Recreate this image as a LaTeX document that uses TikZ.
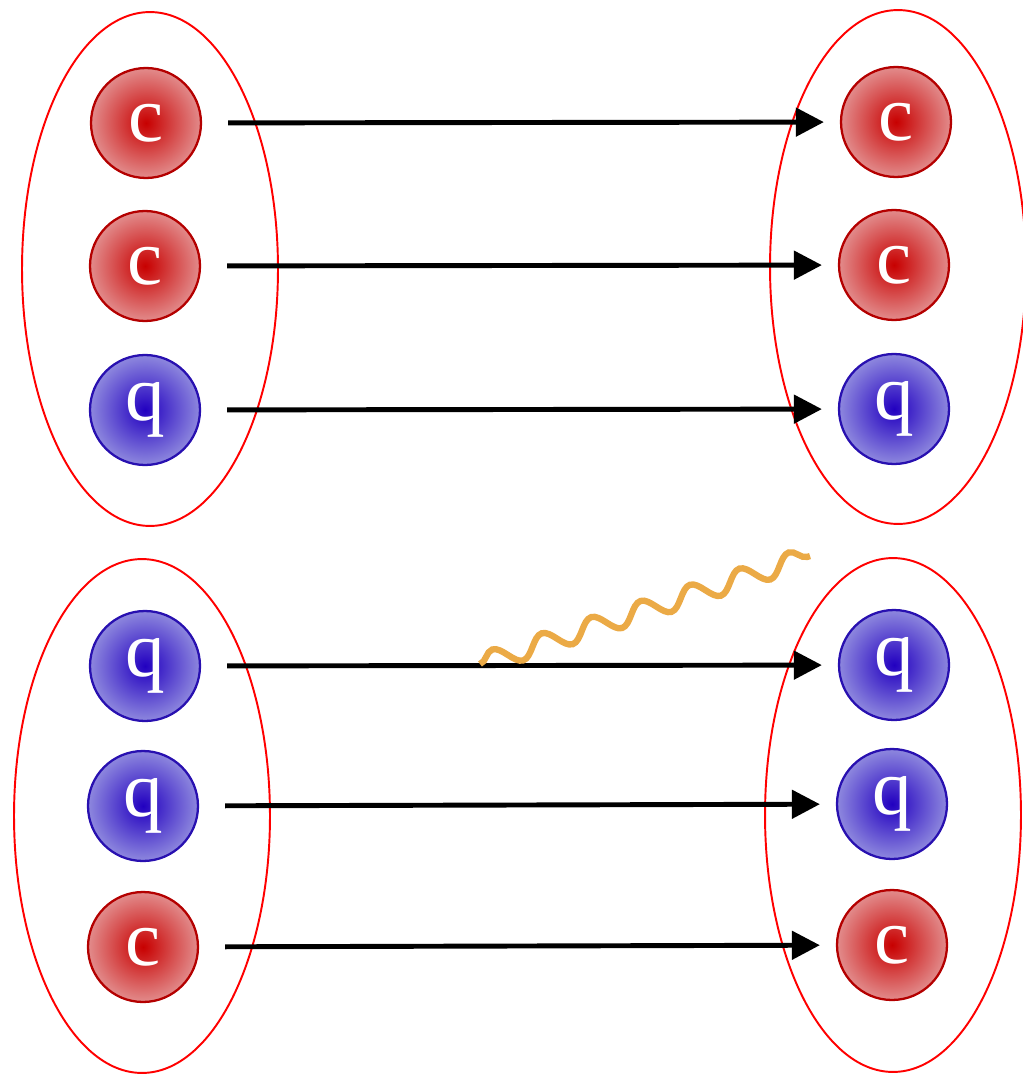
\documentclass[tikz,border=0pt]{standalone}
\usepackage{fontspec}
\setmainfont{Liberation Serif}
\definecolor{rojo}{RGB}{200, 0, 0}
\definecolor{rojoclaro}{RGB}{226, 140, 140}
\definecolor{rojoborde}{RGB}{180, 0, 0}
\definecolor{azul}{RGB}{34, 0, 192}
\definecolor{azulclaro}{RGB}{142, 136, 222}
\definecolor{azulborde}{RGB}{40, 16, 176}
\definecolor{naranja}{RGB}{235, 170, 70}
\usetikzlibrary{arrows.meta,shapes.geometric,decorations.pathmorphing}

\begin{document}
\begin{tikzpicture}[
    x=0.02cm, y=-0.02cm,
    font=\fontsize{45}{45}\selectfont,
    grupo/.style={ellipse, draw=red, line width=1.1pt,
      minimum width=5.12cm, minimum height=10.28cm, inner sep=0pt},
    quark/.style={circle, line width=1.3pt, minimum size=2.2cm,
      inner sep=0pt, text=white},
    qc/.style={quark, draw=rojoborde, inner color=rojo, outer color=rojoclaro},
    qq/.style={quark, draw=azulborde, inner color=azul, outer color=azulclaro},
    flow/.style={-{Triangle[length=0.56cm, width=0.56cm]}, line width=2.8pt,
      shorten <=0.52cm, shorten >=0.32cm},
    gluon/.style={draw=naranja, line width=3.6pt, decorate,
      decoration={snake, amplitude=0.2cm, segment length=1.04cm}}
  ]
    \useasboundingbox (0,0) rectangle (1023,1075);

    % grupos
    \node[grupo] (gA) at (150,269) {};
    \node[grupo] (gB) at (898,267) {};
    \node[grupo] (gC) at (142,816) {};
    \node[grupo] (gD) at (893,815) {};

    % arriba
    \node[qc] (a1) at (146,123) {c};
    \node[qc] (a2) at (145,266) {c};
    \node[qq] (a3) at (145,410) {q};
    \node[qc] (b1) at (896,122) {c};
    \node[qc] (b2) at (894,265) {c};
    \node[qq] (b3) at (894,409) {q};

    % abajo
    \node[qq] (c1) at (145,666) {q};
    \node[qq] (c2) at (143,806) {q};
    \node[qc] (c3) at (143,947) {c};
    \node[qq] (d1) at (894,665) {q};
    \node[qq] (d2) at (892,804) {q};
    \node[qc] (d3) at (892,945) {c};

    \foreach \i in {1,2,3} {
      \draw[flow] (a\i) -- (b\i);
      \draw[flow] (c\i) -- (d\i);
    }

    \coordinate (w0) at (480,664);
    \coordinate (w1) at (810,556);
    \draw[gluon] (w0) -- (w1);
\end{tikzpicture}
\end{document}
